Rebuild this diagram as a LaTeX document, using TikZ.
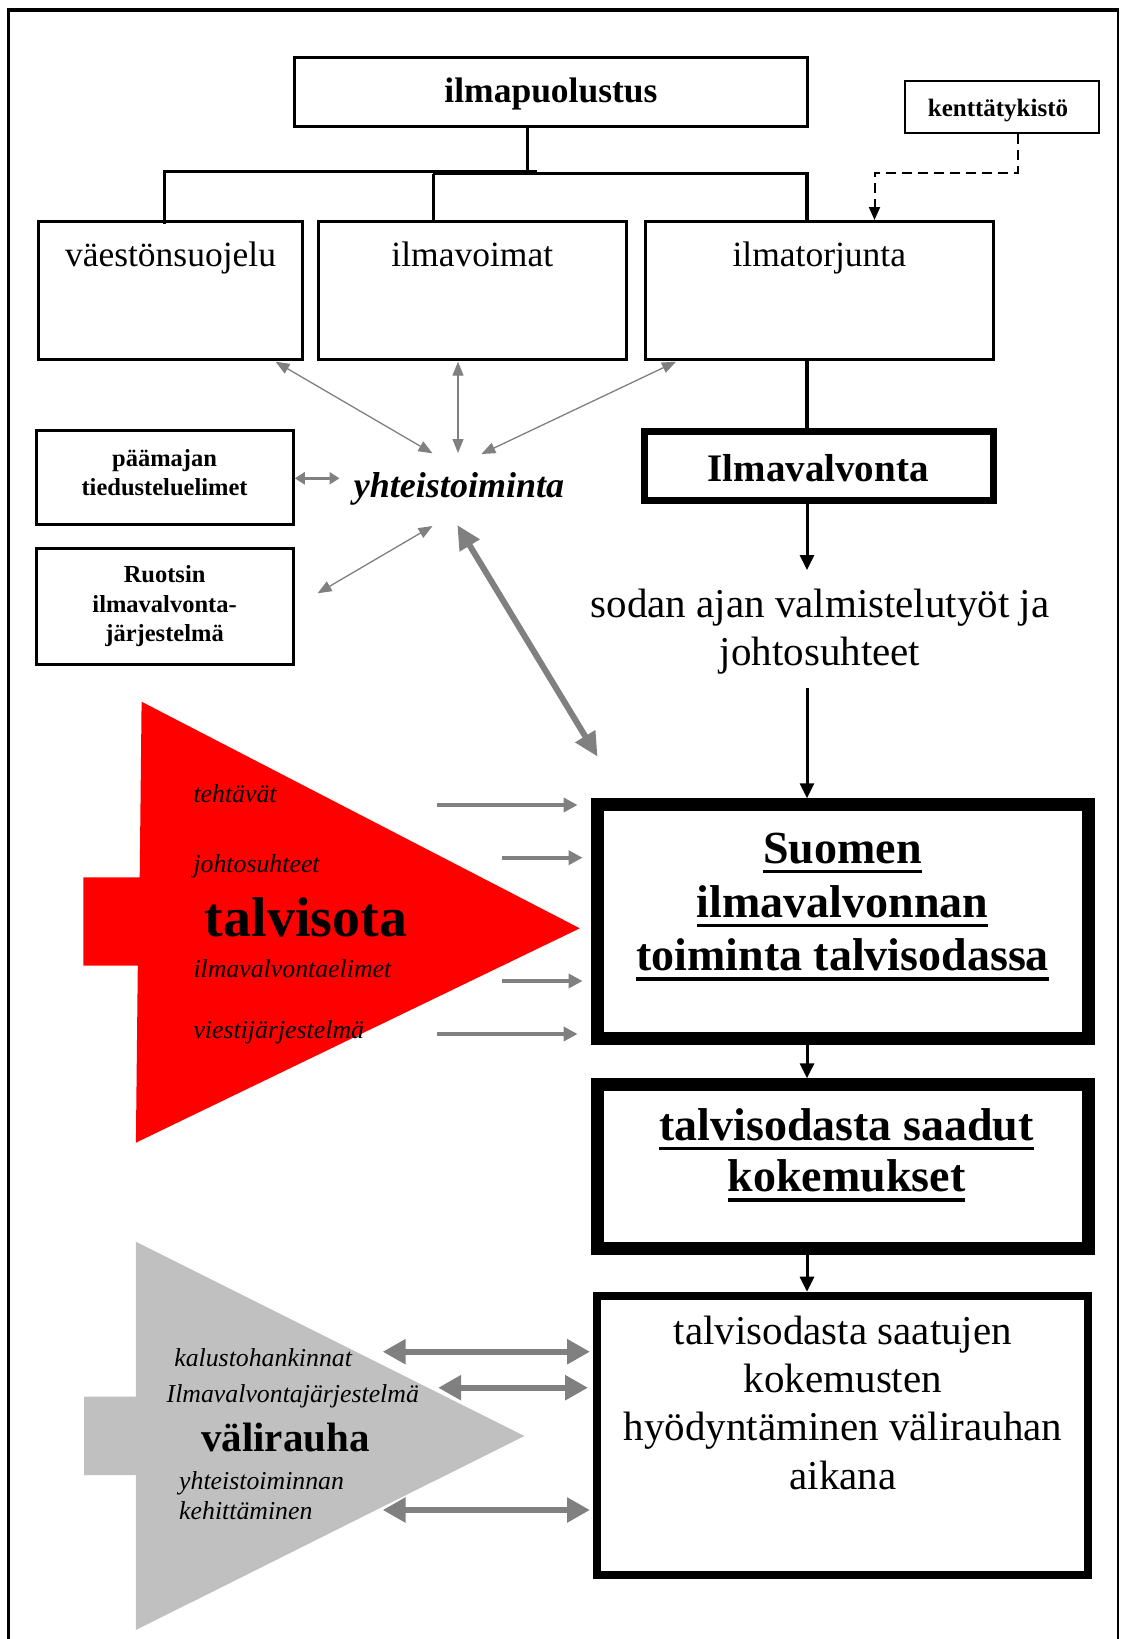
\documentclass[tikz,border=0pt]{standalone}
\usepackage{fontspec}
\setmainfont{Liberation Serif}
\usetikzlibrary{arrows.meta}
\definecolor{arrgray}{HTML}{808080}
\definecolor{shapegray}{HTML}{C0C0C0}
\definecolor{shapered}{HTML}{FF0000}
\newsavebox\ulbox
\newcommand\myul[1]{\sbox\ulbox{#1}\rlap{\rule[-10pt]{\wd\ulbox}{3.5pt}}\usebox\ulbox}
\newcommand\fs[2]{\fontsize{#1}{#2}\selectfont}
\begin{document}
\begin{tikzpicture}[x=1pt,y=-1pt,
  blk/.style={draw=black, line width=3pt, inner sep=0pt},
  txt/.style={inner sep=0pt, anchor=base},
  lbl/.style={inner sep=0pt, anchor=base west, font=\fs{25.8}{30}\itshape},
  tree/.style={draw=black, line width=3.5pt},
  barrow/.style={draw=black, line width=3pt, -{Triangle[length=15pt,width=14pt]}},
  thin/.style={draw=arrgray, line width=1.3pt, {Triangle[length=14pt,width=11pt]}-{Triangle[length=14pt,width=11pt]}},
  fat/.style={draw=arrgray, line width=6pt, {Triangle[length=24pt,width=22pt]}-{Triangle[length=24pt,width=22pt]}},
  redarr/.style={draw=arrgray, line width=4pt, -{Triangle[length=14pt,width=14pt]}},
  peace/.style={draw=arrgray, line width=6pt, {Triangle[length=23pt,width=24pt]}-{Triangle[length=23pt,width=24pt]}}
]
\useasboundingbox (0,0) rectangle (1122,1639);
\fill[white] (0,0) rectangle (1122,1639);
% outer frame
\draw[line width=3pt] (8,1639) -- (8,10);
\draw[line width=4pt] (6.5,10) -- (1119,10);
\draw[line width=2.5pt] (1118,8) -- (1118,1639);

% top boxes
\node[blk, minimum width=513pt, minimum height=69pt] (ilmap) at (551,92) {};
\node[txt, font=\fs{35.5}{40}\bfseries] (tilmap) at (551,102) {ilmapuolustus};
\node[blk, line width=2.5pt, minimum width=194pt, minimum height=52pt] (kentta) at (1002,107) {};
\node[txt, font=\fs{25}{28}\bfseries] (tkentta) at (998,116) {kenttätykistö};

\node[blk, minimum width=264pt, minimum height=138pt] (vaesto) at (170.5,290.5) {};
\node[txt, font=\fs{35.5}{40}] (tvaesto) at (170.5,266) {väestönsuojelu};
\node[blk, minimum width=307.5pt, minimum height=138pt] (ilmav) at (472.3,290.5) {};
\node[txt, font=\fs{35.5}{40}] (tilmav) at (472.3,266) {ilmavoimat};
\node[blk, minimum width=347.7pt, minimum height=138pt] (ilmator) at (819.3,290.5) {};
\node[txt, font=\fs{35.5}{40}] (tilmator) at (819.3,266) {ilmatorjunta};

% tree
\coordinate (tr) at (527.4,171.5);
\coordinate (bL) at (164.6,171.5);
\coordinate (bM) at (537,171.5);
\coordinate (bM2) at (433,173.5);
\coordinate (bR) at (807,173.5);
\coordinate (vx) at (807,0);
\draw[line width=3pt] (ilmap.south -| tr) -- (tr);
\draw[tree] ([yshift=-4pt]vaesto.north -| bL) -- (bL) -- (bM);
\draw[tree] (bM2) -- (bR) -- (ilmator.north -| bR);
\draw[line width=3pt] (bM2) -- (ilmav.north -| bM2);

% dashed kenttätykistö
\coordinate (d1) at (1017.6,173);
\coordinate (d2) at (874.5,173);
\draw[line width=2pt, dash pattern=on 10pt off 6pt, -{Triangle[length=13pt,width=11pt]}]
  (kentta.south -| d1) -- (d1) -- (d2) -- (ilmator.north -| d2);

% left boxes
\node[blk, minimum width=256.5pt, minimum height=93.7pt] (paamaj) at (165,477.3) {};
\node[txt, font=\fs{24.5}{29}\bfseries, align=center] (tpaamaj) at (164.6,495.7) {päämajan\\tiedusteluelimet};
\node[blk, minimum width=256.5pt, minimum height=116.3pt] (ruotsi) at (165,606.3) {};
\node[txt, font=\fs{24.5}{29.5}\bfseries, align=center] (truotsi) at (164.6,641.7) {Ruotsin\\ilmavalvonta-\\järjestelmä};

% yhteistoiminta
\node[txt, font=\fs{36}{40}\bfseries\itshape] (yht) at (459,497) {yhteistoiminta};
\coordinate (e1) at (275.5,361.7);
\coordinate (e2) at (458,361.7);
\coordinate (e3) at (676,361.7);
\coordinate (y1) at (432.5,453.3);
\coordinate (y2) at (458,453);
\coordinate (y3) at (481.4,454);
\coordinate (y4) at (339.5,478.3);
\coordinate (y5) at (432.5,526);
\coordinate (y6) at (457.3,525);
\coordinate (r1) at (317.6,593.3);
\coordinate (s1) at (597.6,756.7);
\draw[thin] (e1) -- (y1);
\draw[thin] (e2) -- (y2);
\draw[thin] (e3) -- (y3);
\draw[draw=arrgray, line width=2.5pt, {Triangle[length=10pt,width=12pt]}-{Triangle[length=10pt,width=12pt]}] (paamaj.east |- y4) -- (y4);
\draw[thin] (r1) -- (y5);
\draw[fat] (y6) -- (s1);

% Ilmavalvonta
\node[blk, line width=7pt, minimum width=349.7pt, minimum height=69.3pt] (ilmavalv) at (819,465.8) {};
\node[txt, font=\fs{39}{44}\bfseries] (tilmavalv) at (818,481.7) {Ilmavalvonta};
\draw[line width=4pt] (ilmator.south -| vx) -- (ilmavalv.north -| vx);

\coordinate (a1) at (807,570);
\draw[barrow] (ilmavalv.south -| vx) -- (a1);
\node[txt, font=\fs{41}{47.7}, align=center] (sodan) at (820,665) {sodan ajan valmistelutyöt ja\\johtosuhteet};
\coordinate (a2) at (807,688);

% Suomen box
\node[blk, line width=13pt, minimum width=491pt, minimum height=233.7pt] (suomen) at (842.6,921.6) {};
\node[txt, font=\fs{46}{53.7}\bfseries, align=center] (tsuomen) at (842.6,970.7) {\myul{Suomen}\\\myul{ilmavalvonnan}\\\myul{toiminta talvisodassa}};
\draw[barrow] (a2) -- (suomen.north -| vx);

\node[blk, line width=13pt, minimum width=491pt, minimum height=163.7pt] (kokem) at (842.6,1166.7) {};
\node[txt, font=\fs{46}{51.7}\bfseries, align=center] (tkokem) at (846.5,1191.7) {\myul{talvisodasta saadut}\\\myul{kokemukset}};
\draw[barrow] (suomen.south -| vx) -- (kokem.north -| vx);

\node[blk, line width=8pt, minimum width=491.2pt, minimum height=279.6pt] (hyod) at (842.6,1435.5) {};
\node[txt, font=\fs{41}{48.4}, align=center] (thyod) at (843,1489.3) {talvisodasta saatujen\\kokemusten\\hyödyntäminen välirauhan\\aikana};
\draw[barrow] (kokem.south -| vx) -- (hyod.north -| vx);

% talvisota shape
\fill[shapered] (141.6,701.7) -- (579.8,928.3) -- (135.9,1142.7) -- (137.8,965.7) -- (83.4,965.7) -- (83.4,877.3) -- (139.7,877.3) -- cycle;
\node[lbl] (l1) at (193.3,802.7) {tehtävät};
\node[lbl] (l2) at (193.3,872.7) {johtosuhteet};
\node[txt, anchor=base west, font=\fs{56}{60}\bfseries] (talvi) at (204.7,936.7) {talvisota};
\node[lbl] (l3) at (193.3,977.7) {ilmavalvontaelimet};
\node[lbl] (l4) at (193.3,1038.3) {viestijärjestelmä};
\coordinate (ra1) at (437,805);
\coordinate (ra2) at (502,857.7);
\coordinate (ra3) at (502,981);
\coordinate (ra4) at (437,1034);
\draw[redarr] (ra1) -- ([xshift=-13pt]suomen.west |- ra1);
\draw[redarr] (ra2) -- ([xshift=-8pt]suomen.west |- ra2);
\draw[redarr] (ra3) -- ([xshift=-8pt]suomen.west |- ra3);
\draw[redarr] (ra4) -- ([xshift=-13pt]suomen.west |- ra4);

% välirauha shape
\fill[shapegray] (135.9,1241.7) -- (524.3,1436) -- (135.9,1630) -- (135.9,1475) -- (84.2,1475) -- (84.2,1396.7) -- (135.9,1396.7) -- cycle;
\node[lbl] (v1) at (174.1,1366.7) {kalustohankinnat};
\node[lbl] (v2) at (166.5,1402.7) {Ilmavalvontajärjestelmä};
\node[txt, anchor=base west, font=\fs{41}{46}\bfseries] (vali) at (201,1451.7) {välirauha};
\node[lbl, align=left] (v3) at (179,1519) {yhteistoiminnan\\kehittäminen};
\coordinate (pa1) at (382.7,1351.7);
\coordinate (pa2) at (438.2,1387.7);
\coordinate (pa3) at (382.7,1510);
\draw[peace] (pa1) -- ([xshift=-3pt]hyod.west |- pa1);
\draw[peace] (pa2) -- ([xshift=-5pt]hyod.west |- pa2);
\draw[peace] (pa3) -- ([xshift=-3pt]hyod.west |- pa3);
\end{tikzpicture}
\end{document}
